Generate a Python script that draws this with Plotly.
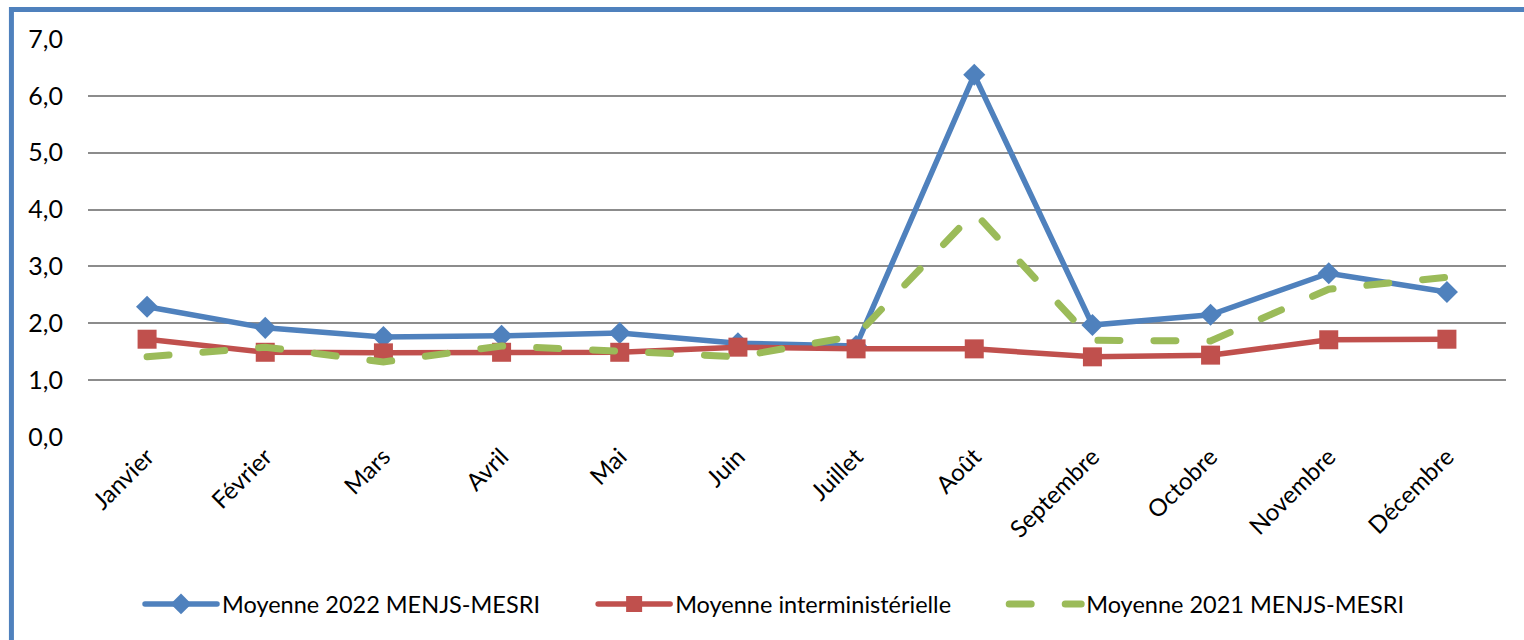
import plotly.graph_objects as go

# ── Data ──────────────────────────────────────────────────────────────────────
MOIS = ["Janvier", "Février", "Mars", "Avril", "Mai", "Juin", "Juillet",
        "Août", "Septembre", "Octobre", "Novembre", "Décembre"]
MOY_2022 = [2.29, 1.92, 1.76, 1.78, 1.83, 1.65, 1.60, 6.37, 1.97, 2.15, 2.88, 2.55]
MOY_INTER = [1.72, 1.49, 1.48, 1.49, 1.49, 1.58, 1.55, 1.55, 1.41, 1.44, 1.71, 1.72]
MOY_2021 = [1.41, 1.58, 1.32, 1.60, 1.51, 1.41, 1.78, 3.95, 1.70, 1.69, 2.60, 2.81]

# ── Style ─────────────────────────────────────────────────────────────────────
_FONT = dict(family="Lato, Carlito, sans-serif", size=20, color="#000000")
_BLUE = "#4F81BD"
_RED = "#C0504D"
_GREEN = "#9BBB59"
_GRID = "#8C8C8C"
_PAD = "\u00a0" * 8   # spacing between legend entries

fig = go.Figure()

fig.add_trace(go.Scatter(
    x=MOIS, y=MOY_2022, name="Moyenne 2022 MENJS-MESRI" + _PAD,
    mode="lines+markers",
    line=dict(color=_BLUE, width=5.5),
    marker=dict(symbol="diamond", size=17, color=_BLUE),
))
fig.add_trace(go.Scatter(
    x=MOIS, y=MOY_INTER, name="Moyenne interministérielle" + _PAD,
    mode="lines+markers",
    line=dict(color=_RED, width=5.5),
    marker=dict(symbol="square", size=19, color=_RED),
))
fig.add_trace(go.Scatter(
    x=MOIS, y=MOY_2021, name="Moyenne 2021 MENJS-MESRI",
    mode="lines",
    line=dict(color=_GREEN, width=7, dash="22px,34px"),
))

# blue frame (left + top edges of the original chart box)
fig.add_shape(
    type="path", xref="paper", yref="paper",
    path="M -0.054,-0.7 L -0.054,1.074 L 1.03,1.074",
    line=dict(color=_BLUE, width=5),
)

fig.update_layout(
    width=1524, height=640,
    font=_FONT,
    separators=", ",
    plot_bgcolor="white",
    paper_bgcolor="white",
    margin=dict(l=88, r=18, t=39, b=203),
    showlegend=True,
    legend=dict(
        orientation="h", x=0.4845, xanchor="center", y=-0.42, yanchor="middle",
        font=dict(size=23.5), itemwidth=72, bgcolor="rgba(0,0,0,0)",
    ),
    xaxis=dict(
        range=[-0.5, 11.5], showgrid=False, zeroline=False, showline=False,
        tickangle=-45, tickfont=dict(size=24),
    ),
    yaxis=dict(
        range=[0, 7], dtick=1, tickformat=".1f",
        showgrid=True, gridcolor=_GRID, gridwidth=1.5,
        zeroline=False, showline=False,
        ticklabelstandoff=24, tickfont=dict(size=25),
    ),
)

# rounded line ends (Excel-like dashes) + no page margin
_JS = """
document.body.style.margin='0';
document.querySelectorAll('path.js-line').forEach(function(p){
    p.style.strokeLinecap='round';
});
"""
fig.write_html("out.html", config={"displayModeBar": False}, post_script=_JS)
